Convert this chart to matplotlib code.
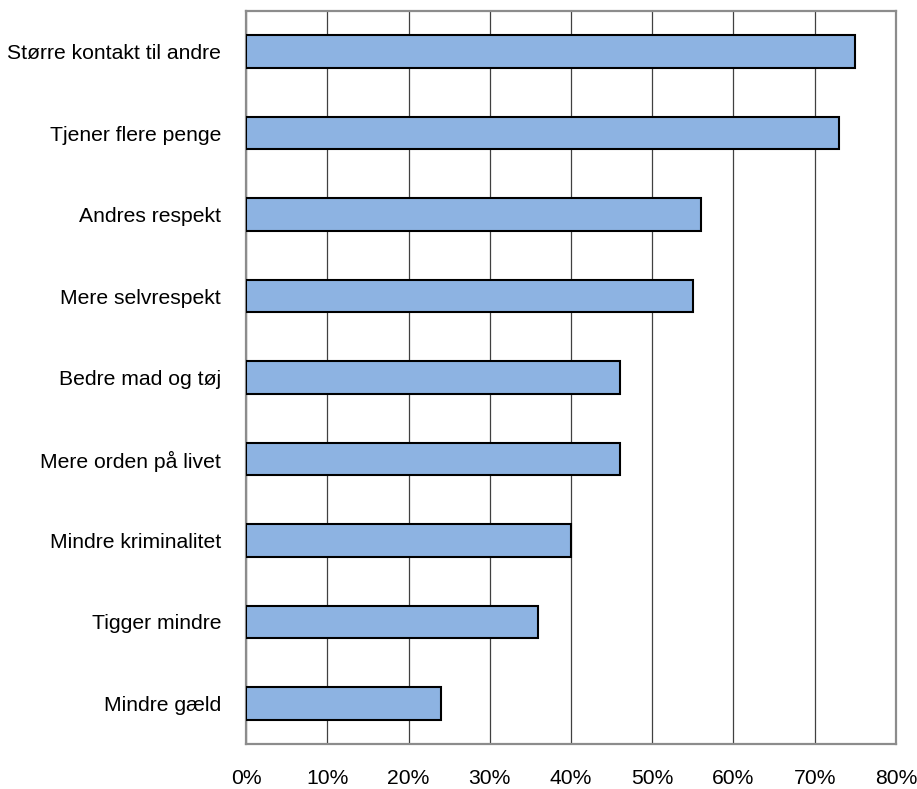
import matplotlib.pyplot as plt
from matplotlib.ticker import PercentFormatter

plt.rcParams['font.family'] = ['Liberation Sans', 'DejaVu Sans']

categories = [
    "Større kontakt til andre",
    "Tjener flere penge",
    "Andres respekt",
    "Mere selvrespekt",
    "Bedre mad og tøj",
    "Mere orden på livet",
    "Mindre kriminalitet",
    "Tigger mindre",
    "Mindre gæld",
]
values = [75, 73, 56, 55, 46, 46, 40, 36, 24]

fig = plt.figure(figsize=(9.17, 7.89), dpi=100)
ax = fig.add_axes([0.2683, 0.057, 0.7087, 0.929])

pos = list(range(len(categories)))
ax.barh(pos, values, height=0.4, color="#8db3e2", edgecolor="black",
        linewidth=1.5, zorder=3)

ax.set_ylim(len(categories) - 0.5, -0.5)
ax.set_xlim(0, 80)
ax.set_xticks(range(0, 81, 10))
ax.xaxis.set_major_formatter(PercentFormatter(decimals=0))
ax.set_yticks(pos)
ax.set_yticklabels(categories)

ax.grid(axis="x", color="#404040", linewidth=0.9, zorder=0)
for s in ax.spines.values():
    s.set_color("#8c8c8c")
    s.set_linewidth(1.6)

ax.tick_params(axis="both", length=0, labelsize=15.2, colors="black")
ax.tick_params(axis="y", pad=18)
ax.tick_params(axis="x", pad=18)

fig.savefig("out.png", dpi=100)
